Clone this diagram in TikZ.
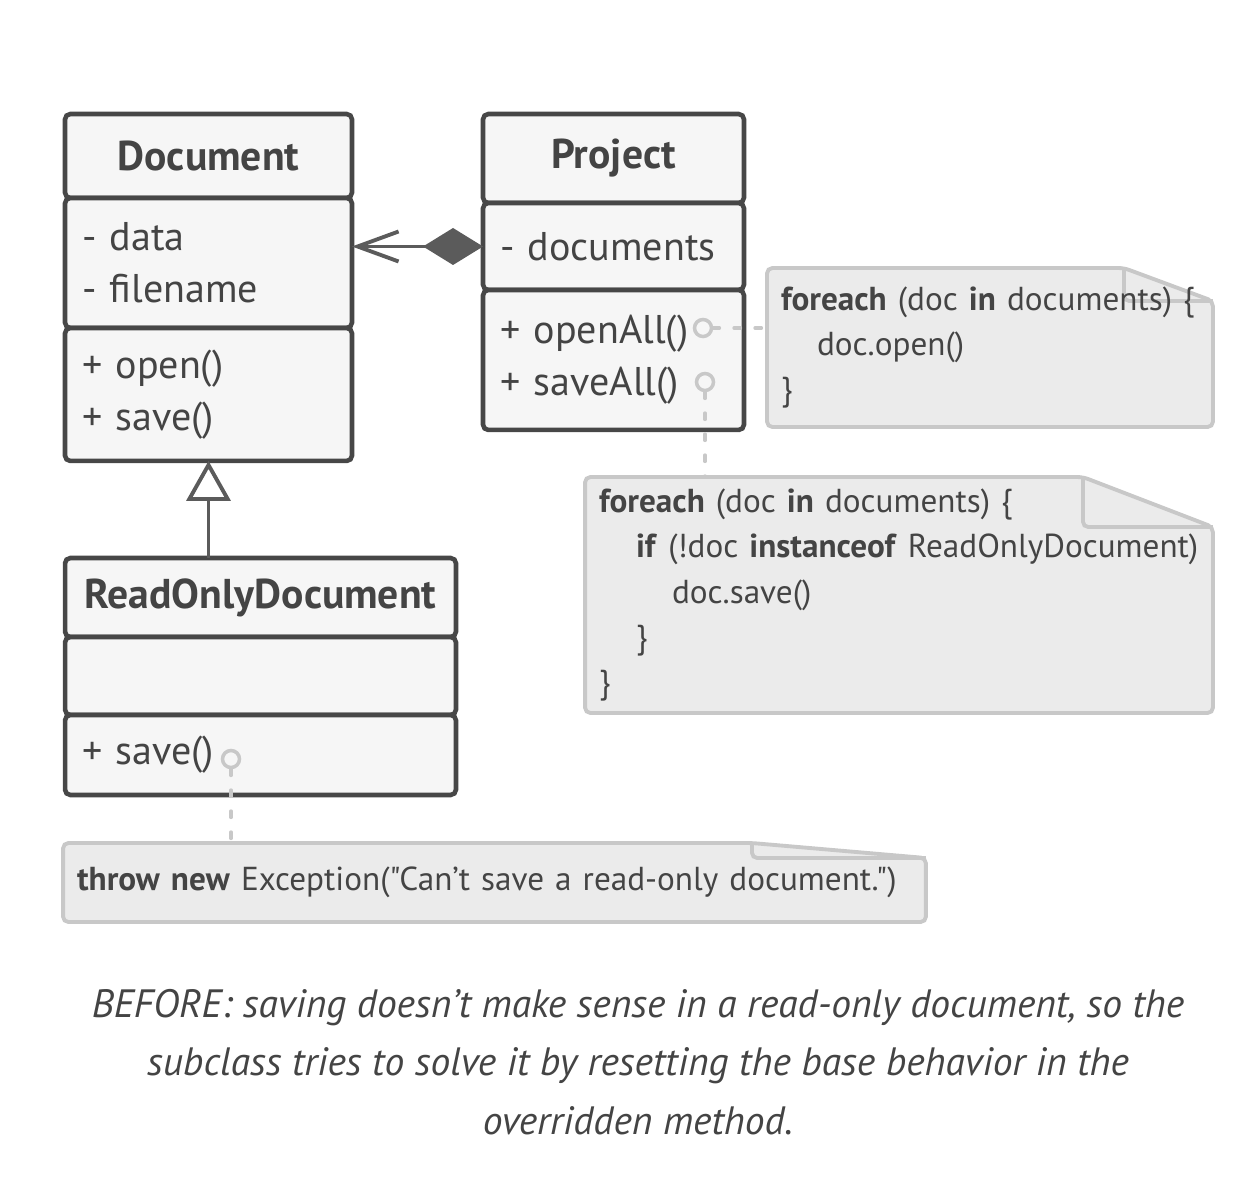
\documentclass[tikz,border=0pt]{standalone}
\usepackage{fontspec}
\setmainfont{PT Sans}[Ligatures=TeXOff]
\usepackage{xcolor}
\usepackage{tikz}
\usetikzlibrary{arrows.meta,positioning,calc}
\definecolor{linedark}{HTML}{474747}
\definecolor{boxfill}{HTML}{F6F6F6}
\definecolor{textdark}{HTML}{444444}
\definecolor{arrowgray}{HTML}{5B5B5B}
\definecolor{notefill}{HTML}{EBEBEB}
\definecolor{notedraw}{HTML}{C8C8C8}
\pgfdeclarelayer{background}
\pgfsetlayers{background,main}
\tikzset{
  classbox/.style={draw=linedark, fill=boxfill, line width=2.6pt, rounded corners=3pt, outer sep=0pt, inner sep=0pt, text=textdark},
  ctitle/.style={classbox, font=\fontsize{23.7}{26}\selectfont\bfseries, align=center},
  cbody/.style={classbox, inner xsep=0.34cm, font=\fontsize{22.8}{29.5}\selectfont, align=left},
  note/.style={inner sep=0pt, inner xsep=0.28cm, outer sep=0pt, align=left, text=textdark, font=\fontsize{18.9}{25.8}\selectfont},
  noteline/.style={draw=notedraw, fill=notefill, line width=2.2pt, rounded corners=3pt},
  port/.style={circle, draw=notedraw, fill=boxfill, line width=2pt, minimum size=0.34cm, inner sep=0pt},
  dashlink/.style={draw=notedraw, line width=2.2pt, line cap=round, dash pattern=on 0.12cm off 0.3cm},
  compose/.style={draw=arrowgray, line width=2.2pt, {Diamond[length=1.2cm,width=0.74cm]}-{Straight Barb[length=0.82cm,width=0.6cm]}},
  inherit/.style={draw=arrowgray, line width=2.2pt, -{Triangle[length=0.8cm,width=0.88cm,fill=white]}},
  caption/.style={align=center, text=textdark, font=\fontsize{22.5}{33.4}\selectfont\itshape},
}
% note outline with folded corner
\newcommand{\notefold}[3]{%
  \begin{pgfonlayer}{background}
  \path[noteline] (#1.south west) -- (#1.north west) -- ($(#1.north east)+(-#2,0)$) -- ($(#1.north east)+(0,-#3)$) -- (#1.south east) -- cycle;
  \draw[noteline, fill=none] ($(#1.north east)+(-#2,0)$) -- ($(#1.north east)+(-#2,-#3)$) -- ($(#1.north east)+(0,-#3)$);
  \end{pgfonlayer}}

\begin{document}
\begin{tikzpicture}[x=0.02cm, y=-0.02cm]
\useasboundingbox (0,0) rectangle (1244,1198);

% classes
\node[ctitle, minimum width=5.74cm, minimum height=1.68cm] (doc) at (208.5,156) {Document};
\node[cbody, text width=5.06cm, minimum height=2.6cm, below=0pt of doc] (docAttr) {- data\\- filename};
\node[cbody, text width=5.06cm, minimum height=2.66cm, below=0pt of docAttr] (docOps) {+ open()\\+ save()};

\node[ctitle, minimum width=5.22cm, minimum height=1.78cm] (prj) at (613.5,158.5) {Project};
\node[cbody, text width=4.54cm, minimum height=1.74cm, below=0pt of prj] (prjAttr) {- documents};
\node[cbody, text width=4.54cm, minimum height=2.8cm, below=0pt of prjAttr] (prjOps) {+ openAll()\\+ saveAll()};

\node[ctitle, minimum width=7.82cm, minimum height=1.58cm] (rod) at (260.5,597.5) {ReadOnlyDocument};
\node[cbody, text width=7.14cm, minimum height=1.56cm, below=0pt of rod] (rodAttr) {};
\node[cbody, text width=7.14cm, minimum height=1.6cm, below=0pt of rodAttr] (rodOps) {+ save()};

% relations
\draw[compose] (prjAttr.west) -- (prjAttr.west -| docAttr.east);
\draw[inherit] (doc.south |- rod.north) -- (docOps.south);

% notes
\node[note, text width=8.36cm, minimum height=3.18cm] (n1) at (990,347.5)
  {\mbox{\textbf{foreach} (doc \textbf{in} documents) \{}\\\hspace*{0.72cm}doc.open()\\\}};
\notefold{n1}{1.78cm}{0.66cm}
\node[note, text width=12.0cm, minimum height=4.72cm] (n2) at (899,595)
  {\textbf{foreach} (doc \textbf{in} documents) \{\\\hspace*{0.74cm}\mbox{\textbf{if} (!doc \textbf{instanceof} ReadOnlyDocument)}\\\hspace*{1.46cm}doc.save()\\\hspace*{0.74cm}\}\\\}};
\notefold{n2}{2.6cm}{1.0cm}
\node[note, text width=16.7cm, minimum height=1.58cm] (n3) at (494.5,882.5)
  {\mbox{\textbf{throw new} Exception("Can’t save a read-only document.")}};
\notefold{n3}{3.48cm}{0.3cm}

% ports and links to notes
\node[port] (pOpen) at (703,328) {};
\node[port] (pSave) at (705,382) {};
\node[port] (pRsave) at (231,759) {};
\draw[dashlink] (pOpen.east) -- (pOpen.east -| n1.west);
\draw[dashlink] (pSave.south) -- (pSave.south |- n2.north);
\draw[dashlink] (pRsave.south) -- (pRsave.south |- n3.north);

% caption
\node[caption] (cap) at (638,1062) {BEFORE: saving doesn’t make sense in a read-only document, so the\\subclass tries to solve it by resetting the base behavior in the\\overridden method.};
\end{tikzpicture}
\end{document}
